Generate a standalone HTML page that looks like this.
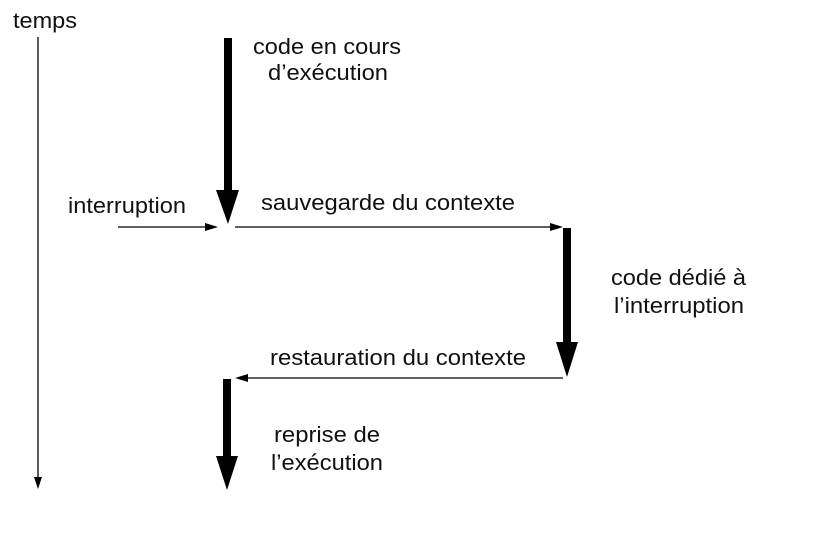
<!DOCTYPE html>
<html><head><meta charset="utf-8"><style>
html,body{margin:0;padding:0;background:#fff;}
svg text{font-family:"Liberation Sans",sans-serif;font-size:22.5px;fill:#111;}
</style></head><body>
<svg width="832" height="529" viewBox="0 0 832 529" xmlns="http://www.w3.org/2000/svg">
<text x="13" y="28" textLength="64" lengthAdjust="spacingAndGlyphs">temps</text>
<line x1="38" y1="37" x2="38" y2="480" stroke="#000" stroke-width="1.3"/>
<polygon points="34,477 42,477 38,489" fill="#000"/>

<rect x="224" y="38" width="8" height="154" fill="#000"/>
<polygon points="216,190 239,190 228,224" fill="#000"/>
<text x="253" y="54" textLength="148" lengthAdjust="spacingAndGlyphs">code en cours</text>
<text x="268" y="80" textLength="120" lengthAdjust="spacingAndGlyphs">d’exécution</text>

<text x="68" y="213" textLength="118" lengthAdjust="spacingAndGlyphs">interruption</text>
<line x1="118" y1="227" x2="206" y2="227" stroke="#000" stroke-width="1.3"/>
<polygon points="205,223 218,227 205,231" fill="#000"/>

<text x="261" y="210" textLength="254" lengthAdjust="spacingAndGlyphs">sauvegarde du contexte</text>
<line x1="235" y1="227" x2="552" y2="227" stroke="#000" stroke-width="1.3"/>
<polygon points="550,223 563,227 550,231" fill="#000"/>

<rect x="563" y="228" width="8" height="115" fill="#000"/>
<polygon points="556,342 578,342 567,377" fill="#000"/>
<text x="611" y="285" textLength="135" lengthAdjust="spacingAndGlyphs">code dédié à</text>
<text x="614" y="313" textLength="130" lengthAdjust="spacingAndGlyphs">l’interruption</text>

<text x="270" y="365" textLength="256" lengthAdjust="spacingAndGlyphs">restauration du contexte</text>
<line x1="246" y1="378" x2="563" y2="378" stroke="#000" stroke-width="1.3"/>
<polygon points="248,374 235,378 248,382" fill="#000"/>

<rect x="223" y="379" width="8" height="78" fill="#000"/>
<polygon points="216,456 238,456 227,490" fill="#000"/>
<text x="274" y="442" textLength="106" lengthAdjust="spacingAndGlyphs">reprise de</text>
<text x="271" y="470" textLength="112" lengthAdjust="spacingAndGlyphs">l’exécution</text>
</svg>
</body></html>
